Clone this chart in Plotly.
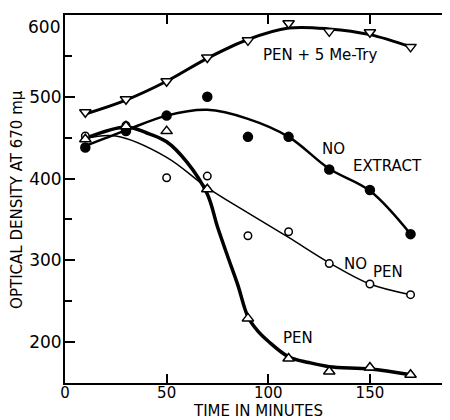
import plotly.graph_objects as go

# ---- data ----
time_min = [10, 30, 50, 70, 90, 110, 130, 150, 170]

pen_5metry = [481, 497, 519, 548, 569, 590, 580, 579, 561]
no_extract = [438, 458, 477, 500, 451, 451, 411, 386, 332]
no_pen = [452, 465, 401, 403, 330, 335, 296, 271, 258]
pen = [448, 464, 458, 387, 229, 180, 164, 169, 160]

# hand-drawn smooth curves
pen_5metry_curve_x = [10, 30, 50, 70, 90, 110, 130, 150, 170]
pen_5metry_curve_y = [479, 496, 519, 547, 570, 584, 583, 576, 561]

no_extract_curve_x = [10, 30, 50, 70, 90, 110, 130, 150, 170]
no_extract_curve_y = [440, 459, 477, 484, 473, 451, 412, 385, 332]

no_pen_curve_x = [10, 25, 50, 70, 90, 110, 130, 150, 170]
no_pen_curve_y = [449, 452, 426, 389, 358, 328, 297, 271, 258]

pen_curve_x = [10, 30, 40, 50, 60, 70, 75, 80, 85, 90, 95, 100, 110, 120, 130, 150, 170]
pen_curve_y = [449, 463, 456, 445, 420, 381, 341, 305, 270, 231, 213, 201, 182, 175, 170, 167, 160]

x_ticks = [0, 50, 100, 150]
y_ticks = [200, 300, 400, 500, 600]

labels = [
    ("PEN + 5 Me-Try", 125.4, 551),
    ("NO", 132.2, 436),
    ("EXTRACT", 158.6, 415),
    ("NO", 143.0, 296),
    ("PEN", 158.9, 286),
    ("PEN", 114.7, 205),
]

FONT = "DejaVu Sans"
fig = go.Figure()

def curve(x, y, w):
    fig.add_trace(go.Scatter(x=x, y=y, mode="lines", line=dict(color="black", width=w, shape="spline", smoothing=1),
                             showlegend=False, hoverinfo="skip"))

curve(pen_5metry_curve_x, pen_5metry_curve_y, 3)
curve(no_extract_curve_x, no_extract_curve_y, 2.5)
curve(no_pen_curve_x, no_pen_curve_y, 1.5)
curve(pen_curve_x, pen_curve_y, 3.5)

def pts(y, symbol, fill, size):
    fig.add_trace(go.Scatter(x=time_min, y=y, mode="markers",
                             marker=dict(symbol=symbol, size=size, color=fill,
                                         line=dict(color="black", width=1.5)),
                             showlegend=False))

pts(pen_5metry, "triangle-down", "white", 10)
pts(no_extract, "circle", "black", 9)
pts(no_pen, "circle", "white", 7.5)
pts(pen, "triangle-up", "white", 10)

# dummy trace for right-hand tick axis
fig.add_trace(go.Scatter(x=[None], y=[None], yaxis="y2", showlegend=False, hoverinfo="skip"))

for text, x, y in labels:
    fig.add_annotation(x=x, y=y, text=text, showarrow=False,
                       font=dict(family=FONT, size=15, color="black"))

# top tick label sits just below its tick (as in the original), so draw it as an annotation
top_tick = y_ticks[-1]
fig.add_annotation(xref="paper", yref="y", x=0, y=top_tick, xanchor="right", yanchor="top",
                   xshift=-3, yshift=0, text=str(top_tick), showarrow=False,
                   font=dict(family=FONT, size=17, color="black"))

# axis titles placed as paper annotations for exact position
fig.add_annotation(xref="paper", yref="paper", x=0.5, y=-0.075, yanchor="middle",
                   text="TIME IN MINUTES", showarrow=False,
                   font=dict(family=FONT, size=15, color="black"))
fig.add_annotation(xref="paper", yref="paper", x=-0.125, y=0.5, xanchor="center",
                   textangle=-90, text="OPTICAL DENSITY AT 670 mμ", showarrow=False,
                   font=dict(family=FONT, size=15, color="black"))

# page body has an 8px default margin, so the figure is 8px smaller and shifted
fig.update_layout(
    width=442, height=412,
    margin=dict(l=57, r=0, t=7, b=37, autoexpand=False),
    paper_bgcolor="white", plot_bgcolor="white",
    font=dict(family=FONT, color="black"),
    xaxis=dict(range=[0, 189.4], tickvals=x_ticks, ticktext=[str(v) for v in x_ticks],
               ticks="inside", ticklen=9, tickwidth=2, tickcolor="black",
               showline=True, linecolor="black", linewidth=2, mirror="ticks",
               showgrid=False, zeroline=False, tickfont=dict(size=15), automargin=False,
               ticklabelstandoff=-5, ticklabeloverflow="allow"),
    yaxis=dict(range=[150, 600], tickvals=y_ticks,
               ticktext=[str(v) if v != top_tick else "" for v in y_ticks],
               ticks="inside", ticklen=10, tickwidth=2, tickcolor="black",
               minor=dict(ticks="inside", ticklen=7, tickwidth=2, tickcolor="black", dtick=50, tick0=0),
               showline=True, linecolor="black", linewidth=2,
               showgrid=False, zeroline=False, tickfont=dict(size=17), automargin=False,
               ticklabelstandoff=-2, ticklabeloverflow="allow"),
    yaxis2=dict(range=[150, 600], overlaying="y", side="right", tick0=0, dtick=50,
                ticks="inside", ticklen=7, tickwidth=2, tickcolor="black",
                showticklabels=False, showline=False, showgrid=False, zeroline=False,
                automargin=False),
)

fig.write_html("out.html")
